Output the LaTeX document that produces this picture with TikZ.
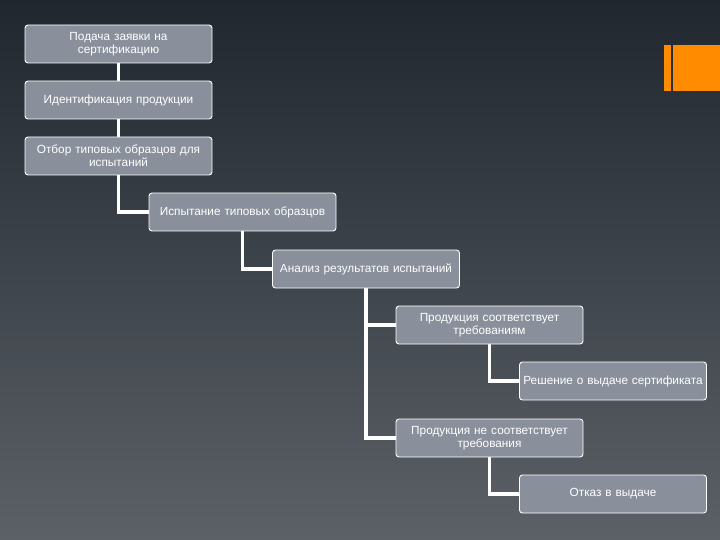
\documentclass[tikz,border=0pt]{standalone}
\usepackage{fontspec}
\setmainfont{Liberation Sans}
\usepackage{tikz}
\usetikzlibrary{positioning, backgrounds}
\definecolor{SlideTop}{RGB}{32, 39, 47}
\definecolor{SlideMid}{RGB}{40, 47, 55}
\definecolor{SlideBot}{RGB}{92, 97, 103}
\definecolor{StepFill}{RGB}{138, 144, 155}
\definecolor{AccentOrange}{RGB}{255, 140, 0}

\tikzset{
  stepbox/.style={draw=white, line width=0.9pt, fill=StepFill, rounded corners=3pt,
    minimum width=187, minimum height=38, text width=185, align=center,
    inner sep=1pt, text=white, font=\fontsize{11.8}{13}\selectfont},
  link/.style={white, line width=3.5pt}
}

\begin{document}
\begin{tikzpicture}[x=1pt,y=-1pt]
  \path[use as bounding box] (0,0) rectangle (720,540);

  \node[stepbox] (zayavka) at (118.5,44) {Подача заявки на\\сертификацию};
  \node[stepbox] (ident) at (118.5,100) {Идентификация продукции};
  \node[stepbox] (otbor) at (118.5,156) {Отбор типовых образцов для\\испытаний};
  \node[stepbox] (ispyt) at (242.5,212) {Испытание типовых образцов};
  \node[stepbox] (analiz) at (366,269) {Анализ результатов испытаний};
  \node[stepbox] (sootv) at (489.5,325) {Продукция соответствует\\требованиям};
  \node[stepbox] (reshenie) at (613,381) {Решение о выдаче сертификата};
  \node[stepbox] (nesootv) at (489.5,438) {Продукция не соответствует\\требования};
  \node[stepbox] (otkaz) at (613,494) {Отказ в выдаче};

  \begin{scope}[on background layer]
    \shade[top color=SlideTop, middle color=SlideMid, bottom color=SlideBot] (0,0) rectangle (720,540);
    % orange mark, top right
    \fill[AccentOrange] (664,45) rectangle (671,91);
    \fill[AccentOrange] (673,45) rectangle (720,91);
    \draw[link] (zayavka) -- (ident);
    \draw[link] (ident) -- (otbor);
    \draw[link] (otbor.south) |- (ispyt.west);
    \draw[link] (ispyt.south) |- (analiz.west);
    \draw[link] (analiz.south) |- (sootv.west);
    \draw[link] (analiz.south) |- (nesootv.west);
    \draw[link] (sootv.south) |- (reshenie.west);
    \draw[link] (nesootv.south) |- (otkaz.west);
  \end{scope}
\end{tikzpicture}
\end{document}
